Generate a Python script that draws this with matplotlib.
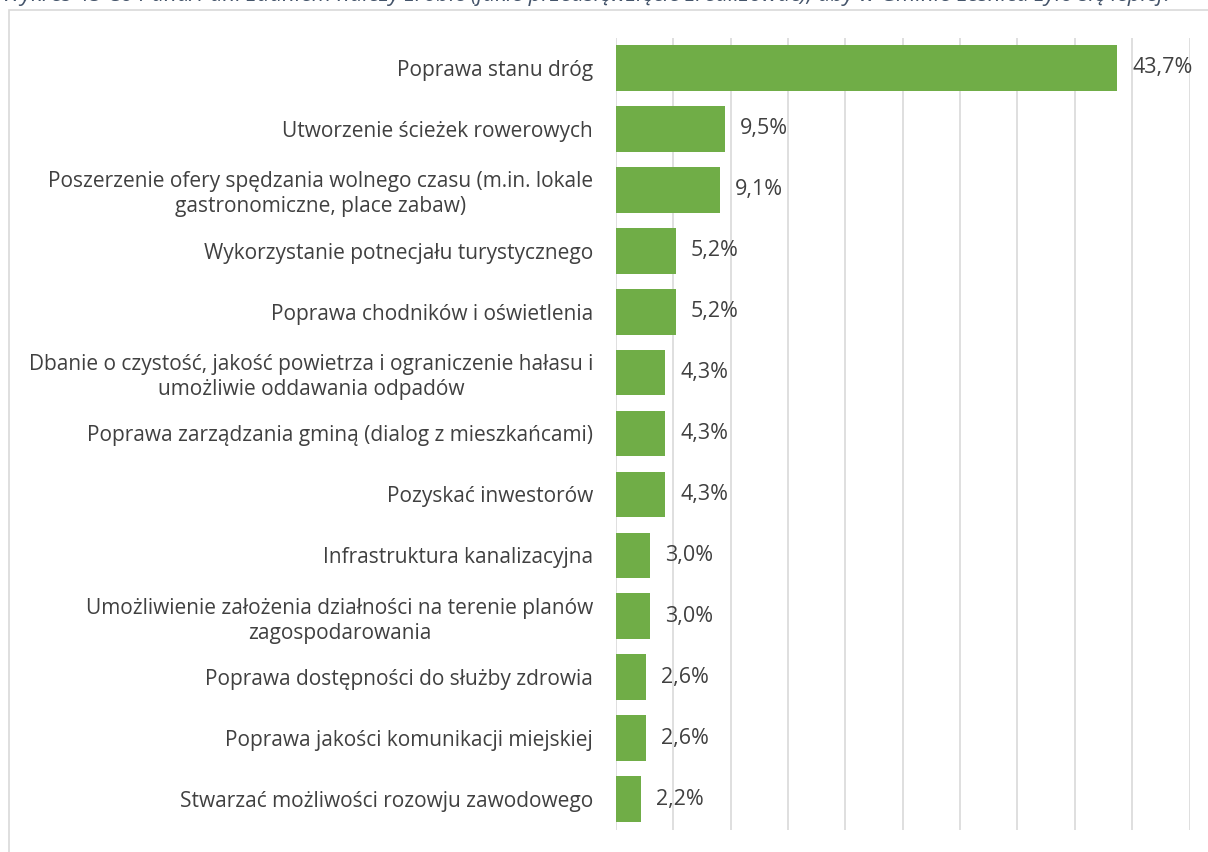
import matplotlib
matplotlib.use("Agg")
import matplotlib.pyplot as plt
from matplotlib.patches import Rectangle

plt.rcParams['font.family'] = ['Open Sans', 'DejaVu Sans']

categories = [
    "Poprawa stanu dróg",
    "Utworzenie ścieżek rowerowych",
    "Poszerzenie ofery spędzania wolnego czasu (m.in. lokale\ngastronomiczne, place zabaw)",
    "Wykorzystanie potnecjału turystycznego",
    "Poprawa chodników i oświetlenia",
    "Dbanie o czystość, jakość powietrza i ograniczenie hałasu i\numożliwie oddawania odpadów",
    "Poprawa zarządzania gminą (dialog z mieszkańcami)",
    "Pozyskać inwestorów",
    "Infrastruktura kanalizacyjna",
    "Umożliwienie założenia działności na terenie planów\nzagospodarowania",
    "Poprawa dostępności do służby zdrowia",
    "Poprawa jakości komunikacji miejskiej",
    "Stwarzać możliwości rozowju zawodowego",
]
values = [43.7, 9.5, 9.1, 5.2, 5.2, 4.3, 4.3, 4.3, 3.0, 3.0, 2.6, 2.6, 2.2]
value_labels = ["43,7%", "9,5%", "9,1%", "5,2%", "5,2%", "4,3%", "4,3%", "4,3%",
                "3,0%", "3,0%", "2,6%", "2,6%", "2,2%"]
title = "Wykres 45 Co Pana/Pani zdaniem należy zrobić (jakie przedsięwzięcie zrealizować), aby w Gminie Leśnica żyło się lepiej?"

W, H = 1208, 852
fig = plt.figure(figsize=(W / 100, H / 100), dpi=100)

# outer chart border
fig.patches.append(Rectangle((8.5 / W, 0.0 - 0.01), 1.2, (H - 10) / H + 0.01,
                             transform=fig.transFigure, fill=False,
                             edgecolor='#d9d9d9', linewidth=1.2))

fig.text(2 / W, 1 - (-4) / H, title, ha='left', va='center', fontsize=16,
         style='italic', color='#44546a')

left, right = 616 / W, 1189.5 / W
top, bottom = 1 - 37.5 / H, 1 - 829.5 / H
ax = fig.add_axes([left, bottom, right - left, top - bottom])

y = list(range(len(categories)))
ax.barh(y, values, height=0.75, color='#70ad47', zorder=3)
ax.set_ylim(len(categories) - 0.5, -0.5)
ax.set_xlim(0, 50)
ax.set_xticks(range(0, 51, 5))
ax.xaxis.grid(True, color='#d9d9d9', linewidth=1.2, zorder=0)
ax.tick_params(axis='x', length=0, labelbottom=False)
ax.tick_params(axis='y', length=0, pad=16.5)
ax.set_yticks(y)
ax.set_yticklabels(categories, fontsize=15, color='#404040',
                   multialignment='center', linespacing=1.25)
for s in ax.spines.values():
    s.set_visible(False)

for i, (v, lab) in enumerate(zip(values, value_labels)):
    ax.text(v + 1.3, i, lab, va='center', ha='left', fontsize=15.5, color='#404040', zorder=4)

fig.savefig("out.png", dpi=100)
